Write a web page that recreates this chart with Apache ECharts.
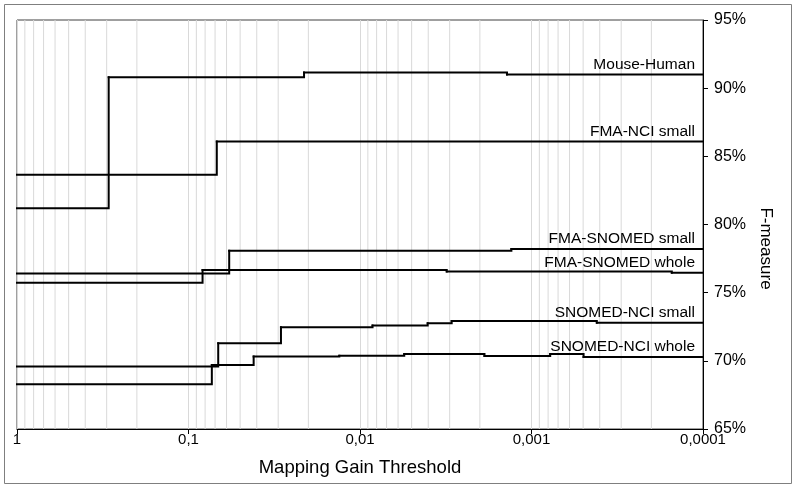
<!DOCTYPE html>
<html>
<head>
<meta charset="utf-8">
<script src="https://cdn.jsdelivr.net/npm/echarts@6/dist/echarts.min.js"></script>
<style>
  html, body { margin: 0; padding: 0; background: #fff; }
  #chart { width: 796px; height: 489px; }
</style>
</head>
<body>
<div id="chart"></div>
<script>
// thresholds where each step starts, and the F-measure (%) from that point on
const mouseHumanX = [1, 0.292, 0.0212, 0.00139, 0.0001];
const mouseHumanY = [81.2, 90.8, 91.14, 91.0, 91.0];

const fmaNciSmallX = [1, 0.0684, 0.0001];
const fmaNciSmallY = [83.64, 86.08, 86.08];

const fmaSnomedSmallX = [1, 0.0579, 0.00131, 0.0001];
const fmaSnomedSmallY = [76.4, 78.08, 78.2, 78.2];

const fmaSnomedWholeX = [1, 0.0828, 0.00312, 0.000152, 0.0001];
const fmaSnomedWholeY = [75.73, 76.66, 76.56, 76.47, 76.47];

const snomedNciSmallX = [1, 0.0671, 0.0289, 0.00845, 0.00403, 0.00292, 0.000416, 0.0001];
const snomedNciSmallY = [69.58, 71.29, 72.47, 72.6, 72.75, 72.93, 72.8, 72.8];

const snomedNciWholeX = [1, 0.0731, 0.0417, 0.0132, 0.00552, 0.00188, 0.000778, 0.000497, 0.0001];
const snomedNciWholeY = [68.28, 69.7, 70.32, 70.38, 70.51, 70.36, 70.51, 70.29, 70.29];

const xTickLabels = ['1', '0,1', '0,01', '0,001', '0,0001'];
const FONT = 'Liberation Sans, Arial, sans-serif';

// light vertical lines at 2..9 of every decade
const minorGrid = [];
for (let k = 1; k <= 4; k++) {
  for (let m = 2; m <= 9; m++) minorGrid.push(m * Math.pow(10, -k));
}

// a step curve: each row is [x, y, nextX, nextY]; value y holds until nextX.
// drawn as a custom series so that small jumps are not smoothed away
const makeSeries = (name, xs, ys) => ({
  name: name,
  type: 'custom',
  silent: true,
  z: 3,
  data: xs.map((x, i) => [x, ys[i], i < xs.length - 1 ? xs[i + 1] : x, i < xs.length - 1 ? ys[i + 1] : ys[i]]),
  renderItem: (params, api) => {
    const x = api.value(0), y = api.value(1), nx = api.value(2), ny = api.value(3);
    const p0 = api.coord([x, y]);
    if (params.dataIndex === xs.length - 1) {
      return {
        type: 'text',
        x: p0[0] - 8,
        y: p0[1] - 10,
        style: {
          text: name,
          align: 'right',
          verticalAlign: 'middle',
          fill: '#000',
          fontFamily: FONT,
          fontSize: 15.5
        }
      };
    }
    const p1 = api.coord([nx, y]);
    const p2 = api.coord([nx, ny]);
    return {
      type: 'polyline',
      shape: { points: [p0, p1, p2] },
      style: { stroke: '#000', lineWidth: 2, fill: null, lineCap: 'square', lineJoin: 'miter' }
    };
  }
});

const chart = echarts.init(document.getElementById('chart'));
chart.setOption({
  animation: false,
  textStyle: { fontFamily: FONT },
  graphic: [{
    type: 'rect',
    shape: { x: 4.5, y: 4.5, width: 787, height: 479 },
    style: { fill: 'none', stroke: '#7f7f7f', lineWidth: 1 },
    silent: true
  }],
  grid: {
    left: 17, right: 93, top: 20, bottom: 60,
    show: true,
    borderColor: '#404040',
    borderWidth: 1
  },
  xAxis: {
    type: 'log',
    logBase: 10,
    min: 0.0001,
    max: 1,
    inverse: true,
    splitNumber: 4,
    name: 'Mapping Gain Threshold',
    nameLocation: 'middle',
    nameGap: 29,
    nameTextStyle: { color: '#000', fontSize: 18.5, fontFamily: FONT },
    axisLine: { lineStyle: { color: '#000', width: 1 } },
    axisTick: { show: true, length: 5, lineStyle: { color: '#000' } },
    axisLabel: {
      color: '#000',
      fontSize: 15,
      margin: 3,
      formatter: (v) => xTickLabels[Math.round(-Math.log10(v))]
    },
    splitLine: { show: true, lineStyle: { color: '#d9d9d9', width: 1 } }
  },
  yAxis: {
    type: 'value',
    position: 'right',
    min: 65,
    max: 95,
    interval: 5,
    name: 'F-measure',
    nameLocation: 'middle',
    nameRotate: -90,
    nameGap: 50,
    nameTextStyle: { color: '#000', fontSize: 17, fontFamily: FONT, padding: [0, 0, 0, 48] },
    axisLine: { show: true, lineStyle: { color: '#000', width: 1 } },
    axisTick: { show: true, length: 5, lineStyle: { color: '#000' } },
    axisLabel: { color: '#000', fontSize: 16, margin: 11, formatter: '{value}%' },
    splitLine: { show: false }
  },
  series: [
    {
      // minor vertical grid, drawn through the x axis scale
      type: 'custom',
      silent: true,
      z: 1,
      data: minorGrid,
      renderItem: (params, api) => {
        const top = api.coord([api.value(0), 95]);
        const bottom = api.coord([api.value(0), 65]);
        return {
          type: 'line',
          shape: { x1: top[0], y1: top[1], x2: bottom[0], y2: bottom[1] },
          style: { stroke: '#d9d9d9', lineWidth: 1 }
        };
      }
    },
    makeSeries('Mouse-Human', mouseHumanX, mouseHumanY),
    makeSeries('FMA-NCI small', fmaNciSmallX, fmaNciSmallY),
    makeSeries('FMA-SNOMED small', fmaSnomedSmallX, fmaSnomedSmallY),
    makeSeries('FMA-SNOMED whole', fmaSnomedWholeX, fmaSnomedWholeY),
    makeSeries('SNOMED-NCI small', snomedNciSmallX, snomedNciSmallY),
    makeSeries('SNOMED-NCI whole', snomedNciWholeX, snomedNciWholeY)
  ]
});
</script>
</body>
</html>
